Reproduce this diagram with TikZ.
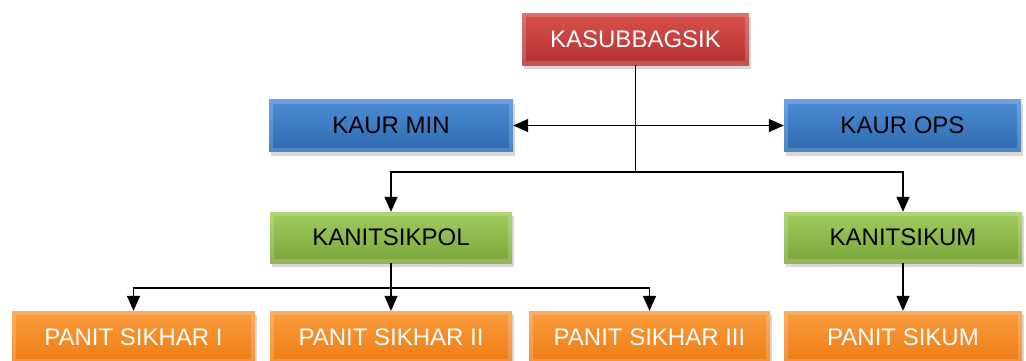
\documentclass[tikz,border=0pt]{standalone}
\usepackage{fontspec}
\setmainfont{Liberation Sans}
\usetikzlibrary{arrows.meta,shadows}
\definecolor{redT}{HTML}{D9514F}
\definecolor{redB}{HTML}{B3302E}
\definecolor{bluT}{HTML}{4D8DD6}
\definecolor{bluB}{HTML}{2E69AE}
\definecolor{grnT}{HTML}{A2CC5E}
\definecolor{grnB}{HTML}{7AA53A}
\definecolor{orT}{HTML}{FA9D3E}
\definecolor{orB}{HTML}{EE7C14}
\begin{document}
\begin{tikzpicture}[x=1pt,y=-1pt,
  box/.style={rectangle, inner sep=0pt, minimum height=52pt,
    font=\fontsize{24}{28}\selectfont,
    drop shadow={shadow xshift=2pt,shadow yshift=-4pt,opacity=0.3},
    path picture={\draw[white,opacity=0.18,line width=8pt]
      (path picture bounding box.south west) rectangle (path picture bounding box.north east);}},
  redbox/.style={box, top color=redT, bottom color=redB, text=white},
  bluebox/.style={box, top color=bluT, bottom color=bluB, text=black},
  greenbox/.style={box, top color=grnT, bottom color=grnB, text=black},
  orangebox/.style={box, top color=orT, bottom color=orB, text=white},
  conn/.style={line width=1.3pt, black},
  arr/.style={conn, -{Triangle[length=15pt,width=13pt]}},
  dbl/.style={conn, {Triangle[length=15pt,width=13pt]}-{Triangle[length=15pt,width=13pt]}}
]
\useasboundingbox (0,0) rectangle (1026,360);

\node[redbox, minimum width=227pt] (ks) at (635.5,39) {KASUBBAGSIK};
\node[bluebox, minimum width=244pt] (min) at (391,125.5) {KAUR MIN};
\node[bluebox, minimum width=237pt] (ops) at (902.5,125.5) {KAUR OPS};
\node[greenbox, minimum width=242pt, minimum height=51pt] (pol) at (391,237.5) {KANITSIKPOL};
\node[greenbox, minimum width=238pt, minimum height=51pt] (kum) at (903,237.5) {KANITSIKUM};
\node[orangebox, minimum width=243pt] (s1) at (133.5,337) {PANIT SIKHAR I};
\node[orangebox, minimum width=242pt] (s2) at (391,337) {PANIT SIKHAR II};
\node[orangebox, minimum width=241pt] (s3) at (649.5,337) {PANIT SIKHAR III};
\node[orangebox, minimum width=238pt] (sk) at (903,337) {PANIT SIKUM};

\coordinate (j1) at (635.5,172);
\coordinate (j2) at (391,288);

\draw[conn] (ks.south) -- (j1);
\draw[dbl] (min.east) -- (ops.west);
\draw[arr] (j1) -| (pol.north);
\draw[arr] (j1) -| (kum.north);
\draw[arr] (pol.south) -- (s2.north);
\draw[arr] (j2) -| (s1.north);
\draw[arr] (j2) -| (s3.north);
\draw[arr] (kum.south) -- (sk.north);
\end{tikzpicture}
\end{document}
